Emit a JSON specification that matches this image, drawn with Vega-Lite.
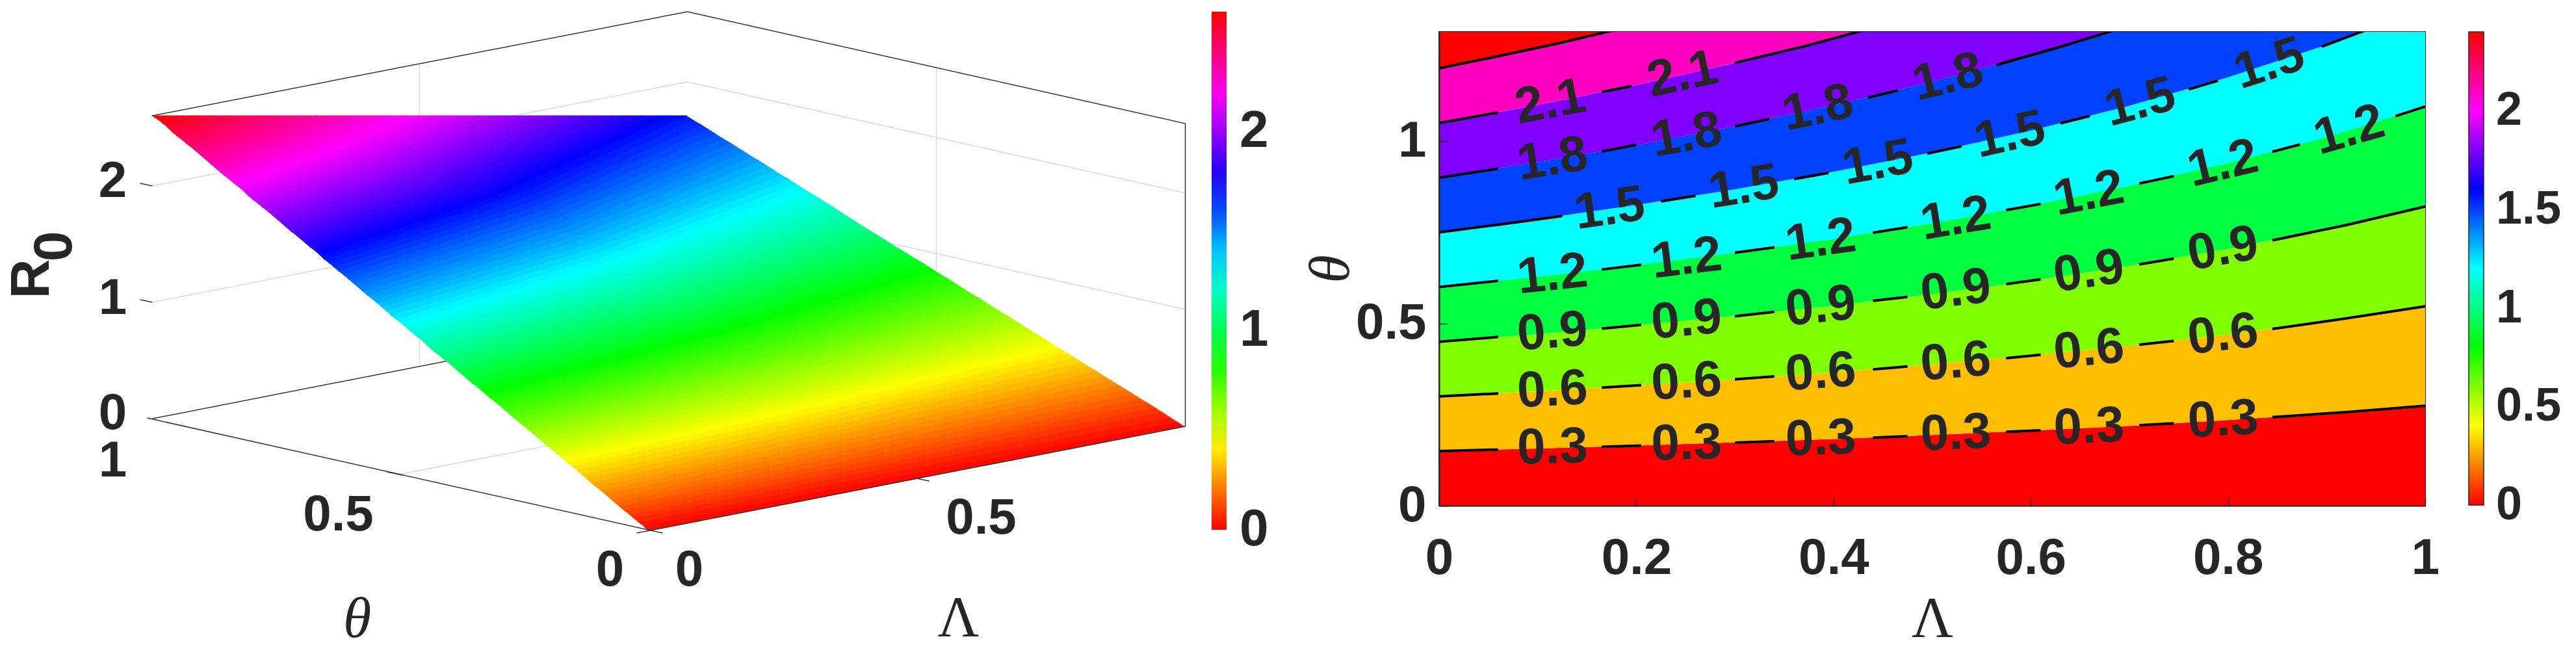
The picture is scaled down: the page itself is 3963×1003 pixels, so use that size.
{
"$schema":"https://vega.github.io/schema/vega-lite/v6.json",
"background":"white",
"padding":{"left":0,"top":4,"right":0,"bottom":0},
"bounds":"flush",
"spacing":214,
"datasets":{
"surface":[
{"r":0.013,"k":1,"h":9.95,"v":8.12},{"r":0.013,"k":2,"h":14.08,"v":7.32},{"r":0.013,"k":3,"h":18.2,"v":6.52},{"r":0.013,"k":4,"h":18.09,"v":6.45},{"r":0.013,"k":5,"h":13.99,"v":7.25},{"r":0.013,"k":6,"h":9.88,"v":8.05},
{"r":0.038,"k":1,"h":9.88,"v":8.05},{"r":0.038,"k":2,"h":13.99,"v":7.25},{"r":0.038,"k":3,"h":18.09,"v":6.45},{"r":0.038,"k":4,"h":17.98,"v":6.38},{"r":0.038,"k":5,"h":13.9,"v":7.19},{"r":0.038,"k":6,"h":9.8,"v":7.99},
{"r":0.063,"k":1,"h":9.8,"v":7.99},{"r":0.063,"k":2,"h":13.9,"v":7.19},{"r":0.063,"k":3,"h":17.98,"v":6.38},{"r":0.063,"k":4,"h":17.86,"v":6.3},{"r":0.063,"k":5,"h":13.81,"v":7.12},{"r":0.063,"k":6,"h":9.73,"v":7.93},
{"r":0.088,"k":1,"h":9.73,"v":7.93},{"r":0.088,"k":2,"h":13.81,"v":7.12},{"r":0.088,"k":3,"h":17.86,"v":6.3},{"r":0.088,"k":4,"h":17.75,"v":6.23},{"r":0.088,"k":5,"h":13.72,"v":7.06},{"r":0.088,"k":6,"h":9.66,"v":7.87},
{"r":0.113,"k":1,"h":9.66,"v":7.87},{"r":0.113,"k":2,"h":13.72,"v":7.06},{"r":0.113,"k":3,"h":17.75,"v":6.23},{"r":0.113,"k":4,"h":17.64,"v":6.16},{"r":0.113,"k":5,"h":13.63,"v":6.99},{"r":0.113,"k":6,"h":9.58,"v":7.81},
{"r":0.138,"k":1,"h":9.58,"v":7.81},{"r":0.138,"k":2,"h":13.63,"v":6.99},{"r":0.138,"k":3,"h":17.64,"v":6.16},{"r":0.138,"k":4,"h":17.52,"v":6.09},{"r":0.138,"k":5,"h":13.54,"v":6.93},{"r":0.138,"k":6,"h":9.51,"v":7.75},
{"r":0.163,"k":1,"h":9.51,"v":7.75},{"r":0.163,"k":2,"h":13.54,"v":6.93},{"r":0.163,"k":3,"h":17.52,"v":6.09},{"r":0.163,"k":4,"h":17.41,"v":6.02},{"r":0.163,"k":5,"h":13.45,"v":6.86},{"r":0.163,"k":6,"h":9.44,"v":7.69},
{"r":0.188,"k":1,"h":9.44,"v":7.69},{"r":0.188,"k":2,"h":13.45,"v":6.86},{"r":0.188,"k":3,"h":17.41,"v":6.02},{"r":0.188,"k":4,"h":17.3,"v":5.95},{"r":0.188,"k":5,"h":13.37,"v":6.8},{"r":0.188,"k":6,"h":9.37,"v":7.63},
{"r":0.213,"k":1,"h":9.37,"v":7.63},{"r":0.213,"k":2,"h":13.37,"v":6.8},{"r":0.213,"k":3,"h":17.3,"v":5.95},{"r":0.213,"k":4,"h":17.18,"v":5.88},{"r":0.213,"k":5,"h":13.28,"v":6.73},{"r":0.213,"k":6,"h":9.29,"v":7.56},
{"r":0.238,"k":1,"h":9.29,"v":7.56},{"r":0.238,"k":2,"h":13.28,"v":6.73},{"r":0.238,"k":3,"h":17.18,"v":5.88},{"r":0.238,"k":4,"h":17.07,"v":5.81},{"r":0.238,"k":5,"h":13.19,"v":6.67},{"r":0.238,"k":6,"h":9.22,"v":7.5},
{"r":0.263,"k":1,"h":9.22,"v":7.5},{"r":0.263,"k":2,"h":13.19,"v":6.67},{"r":0.263,"k":3,"h":17.07,"v":5.81},{"r":0.263,"k":4,"h":16.96,"v":5.74},{"r":0.263,"k":5,"h":13.1,"v":6.6},{"r":0.263,"k":6,"h":9.14,"v":7.44},
{"r":0.288,"k":1,"h":9.14,"v":7.44},{"r":0.288,"k":2,"h":13.1,"v":6.6},{"r":0.288,"k":3,"h":16.96,"v":5.74},{"r":0.288,"k":4,"h":16.85,"v":5.67},{"r":0.288,"k":5,"h":13.01,"v":6.54},{"r":0.288,"k":6,"h":9.07,"v":7.38},
{"r":0.313,"k":1,"h":9.07,"v":7.38},{"r":0.313,"k":2,"h":13.01,"v":6.54},{"r":0.313,"k":3,"h":16.85,"v":5.67},{"r":0.313,"k":4,"h":16.73,"v":5.6},{"r":0.313,"k":5,"h":12.92,"v":6.47},{"r":0.313,"k":6,"h":9.0,"v":7.32},
{"r":0.338,"k":1,"h":9.0,"v":7.32},{"r":0.338,"k":2,"h":12.92,"v":6.47},{"r":0.338,"k":3,"h":16.73,"v":5.6},{"r":0.338,"k":4,"h":16.62,"v":5.53},{"r":0.338,"k":5,"h":12.83,"v":6.41},{"r":0.338,"k":6,"h":8.93,"v":7.26},
{"r":0.363,"k":1,"h":8.93,"v":7.26},{"r":0.363,"k":2,"h":12.83,"v":6.41},{"r":0.363,"k":3,"h":16.62,"v":5.53},{"r":0.363,"k":4,"h":16.51,"v":5.46},{"r":0.363,"k":5,"h":12.75,"v":6.34},{"r":0.363,"k":6,"h":8.85,"v":7.19},
{"r":0.388,"k":1,"h":8.85,"v":7.19},{"r":0.388,"k":2,"h":12.75,"v":6.34},{"r":0.388,"k":3,"h":16.51,"v":5.46},{"r":0.388,"k":4,"h":16.4,"v":5.39},{"r":0.388,"k":5,"h":12.66,"v":6.28},{"r":0.388,"k":6,"h":8.78,"v":7.13},
{"r":0.413,"k":1,"h":8.78,"v":7.13},{"r":0.413,"k":2,"h":12.66,"v":6.28},{"r":0.413,"k":3,"h":16.4,"v":5.39},{"r":0.413,"k":4,"h":16.28,"v":5.32},{"r":0.413,"k":5,"h":12.57,"v":6.21},{"r":0.413,"k":6,"h":8.7,"v":7.07},
{"r":0.438,"k":1,"h":8.7,"v":7.07},{"r":0.438,"k":2,"h":12.57,"v":6.21},{"r":0.438,"k":3,"h":16.28,"v":5.32},{"r":0.438,"k":4,"h":16.17,"v":5.25},{"r":0.438,"k":5,"h":12.48,"v":6.15},{"r":0.438,"k":6,"h":8.63,"v":7.01},
{"r":0.463,"k":1,"h":8.63,"v":7.01},{"r":0.463,"k":2,"h":12.48,"v":6.15},{"r":0.463,"k":3,"h":16.17,"v":5.25},{"r":0.463,"k":4,"h":16.06,"v":5.18},{"r":0.463,"k":5,"h":12.39,"v":6.08},{"r":0.463,"k":6,"h":8.56,"v":6.95},
{"r":0.488,"k":1,"h":8.56,"v":6.95},{"r":0.488,"k":2,"h":12.39,"v":6.08},{"r":0.488,"k":3,"h":16.06,"v":5.18},{"r":0.488,"k":4,"h":15.95,"v":5.11},{"r":0.488,"k":5,"h":12.3,"v":6.02},{"r":0.488,"k":6,"h":8.49,"v":6.89},
{"r":0.513,"k":1,"h":8.49,"v":6.89},{"r":0.513,"k":2,"h":12.3,"v":6.02},{"r":0.513,"k":3,"h":15.95,"v":5.11},{"r":0.513,"k":4,"h":15.83,"v":5.04},{"r":0.513,"k":5,"h":12.21,"v":5.95},{"r":0.513,"k":6,"h":8.41,"v":6.83},
{"r":0.538,"k":1,"h":8.41,"v":6.83},{"r":0.538,"k":2,"h":12.21,"v":5.95},{"r":0.538,"k":3,"h":15.83,"v":5.04},{"r":0.538,"k":4,"h":15.72,"v":4.97},{"r":0.538,"k":5,"h":12.12,"v":5.89},{"r":0.538,"k":6,"h":8.34,"v":6.77},
{"r":0.563,"k":1,"h":8.34,"v":6.77},{"r":0.563,"k":2,"h":12.12,"v":5.89},{"r":0.563,"k":3,"h":15.72,"v":4.97},{"r":0.563,"k":4,"h":15.61,"v":4.9},{"r":0.563,"k":5,"h":12.03,"v":5.82},{"r":0.563,"k":6,"h":8.26,"v":6.7},
{"r":0.588,"k":1,"h":8.26,"v":6.7},{"r":0.588,"k":2,"h":12.03,"v":5.82},{"r":0.588,"k":3,"h":15.61,"v":4.9},{"r":0.588,"k":4,"h":15.5,"v":4.83},{"r":0.588,"k":5,"h":11.94,"v":5.76},{"r":0.588,"k":6,"h":8.19,"v":6.64},
{"r":0.613,"k":1,"h":8.19,"v":6.64},{"r":0.613,"k":2,"h":11.94,"v":5.76},{"r":0.613,"k":3,"h":15.5,"v":4.83},{"r":0.613,"k":4,"h":15.38,"v":4.76},{"r":0.613,"k":5,"h":11.85,"v":5.69},{"r":0.613,"k":6,"h":8.12,"v":6.58},
{"r":0.638,"k":1,"h":8.12,"v":6.58},{"r":0.638,"k":2,"h":11.85,"v":5.69},{"r":0.638,"k":3,"h":15.38,"v":4.76},{"r":0.638,"k":4,"h":15.27,"v":4.69},{"r":0.638,"k":5,"h":11.77,"v":5.63},{"r":0.638,"k":6,"h":8.05,"v":6.52},
{"r":0.663,"k":1,"h":8.05,"v":6.52},{"r":0.663,"k":2,"h":11.77,"v":5.63},{"r":0.663,"k":3,"h":15.27,"v":4.69},{"r":0.663,"k":4,"h":15.16,"v":4.62},{"r":0.663,"k":5,"h":11.68,"v":5.56},{"r":0.663,"k":6,"h":7.97,"v":6.46},
{"r":0.688,"k":1,"h":7.97,"v":6.46},{"r":0.688,"k":2,"h":11.68,"v":5.56},{"r":0.688,"k":3,"h":15.16,"v":4.62},{"r":0.688,"k":4,"h":15.05,"v":4.55},{"r":0.688,"k":5,"h":11.59,"v":5.5},{"r":0.688,"k":6,"h":7.9,"v":6.4},
{"r":0.713,"k":1,"h":7.9,"v":6.4},{"r":0.713,"k":2,"h":11.59,"v":5.5},{"r":0.713,"k":3,"h":15.05,"v":4.55},{"r":0.713,"k":4,"h":14.93,"v":4.48},{"r":0.713,"k":5,"h":11.5,"v":5.43},{"r":0.713,"k":6,"h":7.83,"v":6.34},
{"r":0.738,"k":1,"h":7.83,"v":6.34},{"r":0.738,"k":2,"h":11.5,"v":5.43},{"r":0.738,"k":3,"h":14.93,"v":4.48},{"r":0.738,"k":4,"h":14.82,"v":4.41},{"r":0.738,"k":5,"h":11.41,"v":5.37},{"r":0.738,"k":6,"h":7.76,"v":6.28},
{"r":0.763,"k":1,"h":7.76,"v":6.28},{"r":0.763,"k":2,"h":11.41,"v":5.37},{"r":0.763,"k":3,"h":14.82,"v":4.41},{"r":0.763,"k":4,"h":14.71,"v":4.34},{"r":0.763,"k":5,"h":11.32,"v":5.3},{"r":0.763,"k":6,"h":7.68,"v":6.21},
{"r":0.788,"k":1,"h":7.68,"v":6.21},{"r":0.788,"k":2,"h":11.32,"v":5.3},{"r":0.788,"k":3,"h":14.71,"v":4.34},{"r":0.788,"k":4,"h":14.6,"v":4.27},{"r":0.788,"k":5,"h":11.23,"v":5.24},{"r":0.788,"k":6,"h":7.61,"v":6.15},
{"r":0.813,"k":1,"h":7.61,"v":6.15},{"r":0.813,"k":2,"h":11.23,"v":5.24},{"r":0.813,"k":3,"h":14.6,"v":4.27},{"r":0.813,"k":4,"h":14.48,"v":4.2},{"r":0.813,"k":5,"h":11.15,"v":5.17},{"r":0.813,"k":6,"h":7.53,"v":6.09},
{"r":0.838,"k":1,"h":7.53,"v":6.09},{"r":0.838,"k":2,"h":11.15,"v":5.17},{"r":0.838,"k":3,"h":14.48,"v":4.2},{"r":0.838,"k":4,"h":14.37,"v":4.13},{"r":0.838,"k":5,"h":11.06,"v":5.11},{"r":0.838,"k":6,"h":7.46,"v":6.03},
{"r":0.863,"k":1,"h":7.46,"v":6.03},{"r":0.863,"k":2,"h":11.06,"v":5.11},{"r":0.863,"k":3,"h":14.37,"v":4.13},{"r":0.863,"k":4,"h":14.26,"v":4.06},{"r":0.863,"k":5,"h":10.97,"v":5.04},{"r":0.863,"k":6,"h":7.39,"v":5.97},
{"r":0.888,"k":1,"h":7.39,"v":5.97},{"r":0.888,"k":2,"h":10.97,"v":5.04},{"r":0.888,"k":3,"h":14.26,"v":4.06},{"r":0.888,"k":4,"h":14.15,"v":3.99},{"r":0.888,"k":5,"h":10.88,"v":4.98},{"r":0.888,"k":6,"h":7.32,"v":5.91},
{"r":0.913,"k":1,"h":7.32,"v":5.91},{"r":0.913,"k":2,"h":10.88,"v":4.98},{"r":0.913,"k":3,"h":14.15,"v":3.99},{"r":0.913,"k":4,"h":14.03,"v":3.92},{"r":0.913,"k":5,"h":10.79,"v":4.91},{"r":0.913,"k":6,"h":7.24,"v":5.85},
{"r":0.938,"k":1,"h":7.24,"v":5.85},{"r":0.938,"k":2,"h":10.79,"v":4.91},{"r":0.938,"k":3,"h":14.03,"v":3.92},{"r":0.938,"k":4,"h":13.92,"v":3.85},{"r":0.938,"k":5,"h":10.7,"v":4.85},{"r":0.938,"k":6,"h":7.17,"v":5.79},
{"r":0.963,"k":1,"h":7.17,"v":5.79},{"r":0.963,"k":2,"h":10.7,"v":4.85},{"r":0.963,"k":3,"h":13.92,"v":3.85},{"r":0.963,"k":4,"h":13.8,"v":3.78},{"r":0.963,"k":5,"h":10.61,"v":4.78},{"r":0.963,"k":6,"h":7.09,"v":5.72},
{"r":0.988,"k":1,"h":7.09,"v":5.72},{"r":0.988,"k":2,"h":10.61,"v":4.78},{"r":0.988,"k":3,"h":13.8,"v":3.78},{"r":0.988,"k":4,"h":13.69,"v":3.71},{"r":0.988,"k":5,"h":10.52,"v":4.72},{"r":0.988,"k":6,"h":7.02,"v":5.66},
{"r":1.013,"k":1,"h":7.02,"v":5.66},{"r":1.013,"k":2,"h":10.52,"v":4.72},{"r":1.013,"k":3,"h":13.69,"v":3.71},{"r":1.013,"k":4,"h":13.58,"v":3.64},{"r":1.013,"k":5,"h":10.44,"v":4.65},{"r":1.013,"k":6,"h":6.95,"v":5.6},
{"r":1.038,"k":1,"h":6.95,"v":5.6},{"r":1.038,"k":2,"h":10.44,"v":4.65},{"r":1.038,"k":3,"h":13.58,"v":3.64},{"r":1.038,"k":4,"h":13.47,"v":3.57},{"r":1.038,"k":5,"h":10.35,"v":4.59},{"r":1.038,"k":6,"h":6.88,"v":5.54},
{"r":1.063,"k":1,"h":6.88,"v":5.54},{"r":1.063,"k":2,"h":10.35,"v":4.59},{"r":1.063,"k":3,"h":13.47,"v":3.57},{"r":1.063,"k":4,"h":13.35,"v":3.5},{"r":1.063,"k":5,"h":10.26,"v":4.52},{"r":1.063,"k":6,"h":6.8,"v":5.48},
{"r":1.088,"k":1,"h":6.8,"v":5.48},{"r":1.088,"k":2,"h":10.26,"v":4.52},{"r":1.088,"k":3,"h":13.35,"v":3.5},{"r":1.088,"k":4,"h":13.24,"v":3.43},{"r":1.088,"k":5,"h":10.17,"v":4.46},{"r":1.088,"k":6,"h":6.73,"v":5.42},
{"r":1.113,"k":1,"h":6.73,"v":5.42},{"r":1.113,"k":2,"h":10.17,"v":4.46},{"r":1.113,"k":3,"h":13.24,"v":3.43},{"r":1.113,"k":4,"h":13.13,"v":3.36},{"r":1.113,"k":5,"h":10.08,"v":4.39},{"r":1.113,"k":6,"h":6.65,"v":5.36},
{"r":1.138,"k":1,"h":6.65,"v":5.36},{"r":1.138,"k":2,"h":10.08,"v":4.39},{"r":1.138,"k":3,"h":13.13,"v":3.36},{"r":1.138,"k":4,"h":13.02,"v":3.29},{"r":1.138,"k":5,"h":9.99,"v":4.33},{"r":1.138,"k":6,"h":6.58,"v":5.3},
{"r":1.163,"k":1,"h":6.58,"v":5.3},{"r":1.163,"k":2,"h":9.99,"v":4.33},{"r":1.163,"k":3,"h":13.02,"v":3.29},{"r":1.163,"k":4,"h":12.9,"v":3.21},{"r":1.163,"k":5,"h":9.9,"v":4.26},{"r":1.163,"k":6,"h":6.51,"v":5.23},
{"r":1.188,"k":1,"h":6.51,"v":5.23},{"r":1.188,"k":2,"h":9.9,"v":4.26},{"r":1.188,"k":3,"h":12.9,"v":3.21},{"r":1.188,"k":4,"h":12.79,"v":3.14},{"r":1.188,"k":5,"h":9.81,"v":4.2},{"r":1.188,"k":6,"h":6.44,"v":5.17},
{"r":1.213,"k":1,"h":6.44,"v":5.17},{"r":1.213,"k":2,"h":9.81,"v":4.2},{"r":1.213,"k":3,"h":12.79,"v":3.14},{"r":1.213,"k":4,"h":12.68,"v":3.07},{"r":1.213,"k":5,"h":9.73,"v":4.13},{"r":1.213,"k":6,"h":6.36,"v":5.11},
{"r":1.238,"k":1,"h":6.36,"v":5.11},{"r":1.238,"k":2,"h":9.73,"v":4.13},{"r":1.238,"k":3,"h":12.68,"v":3.07},{"r":1.238,"k":4,"h":12.57,"v":3.0},{"r":1.238,"k":5,"h":9.64,"v":4.07},{"r":1.238,"k":6,"h":6.29,"v":5.05},
{"r":1.263,"k":1,"h":6.29,"v":5.05},{"r":1.263,"k":2,"h":9.64,"v":4.07},{"r":1.263,"k":3,"h":12.57,"v":3.0},{"r":1.263,"k":4,"h":12.45,"v":2.93},{"r":1.263,"k":5,"h":9.55,"v":4.0},{"r":1.263,"k":6,"h":6.22,"v":4.99},
{"r":1.288,"k":1,"h":6.22,"v":4.99},{"r":1.288,"k":2,"h":9.55,"v":4.0},{"r":1.288,"k":3,"h":12.45,"v":2.93},{"r":1.288,"k":4,"h":12.34,"v":2.86},{"r":1.288,"k":5,"h":9.46,"v":3.94},{"r":1.288,"k":6,"h":6.15,"v":4.93},
{"r":1.313,"k":1,"h":6.15,"v":4.93},{"r":1.313,"k":2,"h":9.46,"v":3.94},{"r":1.313,"k":3,"h":12.34,"v":2.86},{"r":1.313,"k":4,"h":12.23,"v":2.79},{"r":1.313,"k":5,"h":9.37,"v":3.87},{"r":1.313,"k":6,"h":6.07,"v":4.87},
{"r":1.338,"k":1,"h":6.07,"v":4.87},{"r":1.338,"k":2,"h":9.37,"v":3.87},{"r":1.338,"k":3,"h":12.23,"v":2.79},{"r":1.338,"k":4,"h":12.12,"v":2.72},{"r":1.338,"k":5,"h":9.28,"v":3.81},{"r":1.338,"k":6,"h":6.0,"v":4.81},
{"r":1.363,"k":1,"h":6.0,"v":4.81},{"r":1.363,"k":2,"h":9.28,"v":3.81},{"r":1.363,"k":3,"h":12.12,"v":2.72},{"r":1.363,"k":4,"h":12.0,"v":2.65},{"r":1.363,"k":5,"h":9.19,"v":3.75},{"r":1.363,"k":6,"h":5.92,"v":4.74},
{"r":1.388,"k":1,"h":5.92,"v":4.74},{"r":1.388,"k":2,"h":9.19,"v":3.75},{"r":1.388,"k":3,"h":12.0,"v":2.65},{"r":1.388,"k":4,"h":11.89,"v":2.58},{"r":1.388,"k":5,"h":9.1,"v":3.69},{"r":1.388,"k":6,"h":5.85,"v":4.68},
{"r":1.413,"k":1,"h":5.85,"v":4.68},{"r":1.413,"k":2,"h":9.1,"v":3.69},{"r":1.413,"k":3,"h":11.89,"v":2.58},{"r":1.413,"k":4,"h":11.78,"v":2.51},{"r":1.413,"k":5,"h":9.01,"v":3.62},{"r":1.413,"k":6,"h":5.78,"v":4.62},
{"r":1.438,"k":1,"h":5.78,"v":4.62},{"r":1.438,"k":2,"h":9.01,"v":3.62},{"r":1.438,"k":3,"h":11.78,"v":2.51},{"r":1.438,"k":4,"h":11.67,"v":2.44},{"r":1.438,"k":5,"h":8.93,"v":3.56},{"r":1.438,"k":6,"h":5.71,"v":4.56},
{"r":1.463,"k":1,"h":5.71,"v":4.56},{"r":1.463,"k":2,"h":8.93,"v":3.56},{"r":1.463,"k":3,"h":11.67,"v":2.44},{"r":1.463,"k":4,"h":11.55,"v":2.37},{"r":1.463,"k":5,"h":8.84,"v":3.49},{"r":1.463,"k":6,"h":5.63,"v":4.5},
{"r":1.488,"k":1,"h":5.63,"v":4.5},{"r":1.488,"k":2,"h":8.84,"v":3.49},{"r":1.488,"k":3,"h":11.55,"v":2.37},{"r":1.488,"k":4,"h":11.44,"v":2.3},{"r":1.488,"k":5,"h":8.75,"v":3.43},{"r":1.488,"k":6,"h":5.56,"v":4.44},
{"r":1.513,"k":1,"h":5.56,"v":4.44},{"r":1.513,"k":2,"h":8.75,"v":3.43},{"r":1.513,"k":3,"h":11.44,"v":2.3},{"r":1.513,"k":4,"h":11.33,"v":2.23},{"r":1.513,"k":5,"h":8.66,"v":3.36},{"r":1.513,"k":6,"h":5.48,"v":4.37},
{"r":1.538,"k":1,"h":5.48,"v":4.37},{"r":1.538,"k":2,"h":8.66,"v":3.36},{"r":1.538,"k":3,"h":11.33,"v":2.23},{"r":1.538,"k":4,"h":11.22,"v":2.16},{"r":1.538,"k":5,"h":8.57,"v":3.3},{"r":1.538,"k":6,"h":5.41,"v":4.31},
{"r":1.563,"k":1,"h":5.41,"v":4.31},{"r":1.563,"k":2,"h":8.57,"v":3.3},{"r":1.563,"k":3,"h":11.22,"v":2.16},{"r":1.563,"k":4,"h":11.1,"v":2.09},{"r":1.563,"k":5,"h":8.48,"v":3.23},{"r":1.563,"k":6,"h":5.34,"v":4.25},
{"r":1.588,"k":1,"h":5.34,"v":4.25},{"r":1.588,"k":2,"h":8.48,"v":3.23},{"r":1.588,"k":3,"h":11.1,"v":2.09},{"r":1.588,"k":4,"h":10.99,"v":2.02},{"r":1.588,"k":5,"h":8.39,"v":3.17},{"r":1.588,"k":6,"h":5.27,"v":4.19},
{"r":1.613,"k":1,"h":5.27,"v":4.19},{"r":1.613,"k":2,"h":8.39,"v":3.17},{"r":1.613,"k":3,"h":10.99,"v":2.02},{"r":1.613,"k":4,"h":10.88,"v":1.95},{"r":1.613,"k":5,"h":8.3,"v":3.1},{"r":1.613,"k":6,"h":5.19,"v":4.13},
{"r":1.638,"k":1,"h":5.19,"v":4.13},{"r":1.638,"k":2,"h":8.3,"v":3.1},{"r":1.638,"k":3,"h":10.88,"v":1.95},{"r":1.638,"k":4,"h":10.77,"v":1.88},{"r":1.638,"k":5,"h":8.22,"v":3.04},{"r":1.638,"k":6,"h":5.12,"v":4.07},
{"r":1.663,"k":1,"h":5.12,"v":4.07},{"r":1.663,"k":2,"h":8.22,"v":3.04},{"r":1.663,"k":3,"h":10.77,"v":1.88},{"r":1.663,"k":4,"h":10.65,"v":1.81},{"r":1.663,"k":5,"h":8.13,"v":2.97},{"r":1.663,"k":6,"h":5.05,"v":4.01},
{"r":1.688,"k":1,"h":5.05,"v":4.01},{"r":1.688,"k":2,"h":8.13,"v":2.97},{"r":1.688,"k":3,"h":10.65,"v":1.81},{"r":1.688,"k":4,"h":10.54,"v":1.74},{"r":1.688,"k":5,"h":8.04,"v":2.91},{"r":1.688,"k":6,"h":4.97,"v":3.95},
{"r":1.713,"k":1,"h":4.97,"v":3.95},{"r":1.713,"k":2,"h":8.04,"v":2.91},{"r":1.713,"k":3,"h":10.54,"v":1.74},{"r":1.713,"k":4,"h":10.31,"v":1.74},{"r":1.713,"k":5,"h":7.61,"v":2.97},{"r":1.713,"k":6,"h":4.9,"v":3.88},
{"r":1.738,"k":1,"h":4.9,"v":3.88},{"r":1.738,"k":2,"h":7.61,"v":2.97},{"r":1.738,"k":3,"h":10.31,"v":1.74},{"r":1.738,"k":4,"h":10.08,"v":1.74},{"r":1.738,"k":5,"h":7.46,"v":2.93},{"r":1.738,"k":6,"h":4.83,"v":3.82},
{"r":1.763,"k":1,"h":4.83,"v":3.82},{"r":1.763,"k":2,"h":7.46,"v":2.93},{"r":1.763,"k":3,"h":10.08,"v":1.74},{"r":1.763,"k":4,"h":9.85,"v":1.74},{"r":1.763,"k":5,"h":7.31,"v":2.89},{"r":1.763,"k":6,"h":4.75,"v":3.76},
{"r":1.788,"k":1,"h":4.75,"v":3.76},{"r":1.788,"k":2,"h":7.31,"v":2.89},{"r":1.788,"k":3,"h":9.85,"v":1.74},{"r":1.788,"k":4,"h":9.63,"v":1.74},{"r":1.788,"k":5,"h":7.16,"v":2.85},{"r":1.788,"k":6,"h":4.68,"v":3.7},
{"r":1.813,"k":1,"h":4.68,"v":3.7},{"r":1.813,"k":2,"h":7.16,"v":2.85},{"r":1.813,"k":3,"h":9.63,"v":1.74},{"r":1.813,"k":4,"h":9.4,"v":1.74},{"r":1.813,"k":5,"h":7.0,"v":2.81},{"r":1.813,"k":6,"h":4.61,"v":3.64},
{"r":1.838,"k":1,"h":4.61,"v":3.64},{"r":1.838,"k":2,"h":7.0,"v":2.81},{"r":1.838,"k":3,"h":9.4,"v":1.74},{"r":1.838,"k":4,"h":9.17,"v":1.74},{"r":1.838,"k":5,"h":6.85,"v":2.77},{"r":1.838,"k":6,"h":4.54,"v":3.58},
{"r":1.863,"k":1,"h":4.54,"v":3.58},{"r":1.863,"k":2,"h":6.85,"v":2.77},{"r":1.863,"k":3,"h":9.17,"v":1.74},{"r":1.863,"k":4,"h":8.95,"v":1.74},{"r":1.863,"k":5,"h":6.7,"v":2.74},{"r":1.863,"k":6,"h":4.46,"v":3.52},
{"r":1.888,"k":1,"h":4.46,"v":3.52},{"r":1.888,"k":2,"h":6.7,"v":2.74},{"r":1.888,"k":3,"h":8.95,"v":1.74},{"r":1.888,"k":4,"h":8.72,"v":1.74},{"r":1.888,"k":5,"h":6.55,"v":2.7},{"r":1.888,"k":6,"h":4.39,"v":3.46},
{"r":1.913,"k":1,"h":4.39,"v":3.46},{"r":1.913,"k":2,"h":6.55,"v":2.7},{"r":1.913,"k":3,"h":8.72,"v":1.74},{"r":1.913,"k":4,"h":8.49,"v":1.74},{"r":1.913,"k":5,"h":6.4,"v":2.66},{"r":1.913,"k":6,"h":4.31,"v":3.39},
{"r":1.938,"k":1,"h":4.31,"v":3.39},{"r":1.938,"k":2,"h":6.4,"v":2.66},{"r":1.938,"k":3,"h":8.49,"v":1.74},{"r":1.938,"k":4,"h":8.26,"v":1.74},{"r":1.938,"k":5,"h":6.25,"v":2.62},{"r":1.938,"k":6,"h":4.24,"v":3.33},
{"r":1.963,"k":1,"h":4.24,"v":3.33},{"r":1.963,"k":2,"h":6.25,"v":2.62},{"r":1.963,"k":3,"h":8.26,"v":1.74},{"r":1.963,"k":4,"h":8.03,"v":1.74},{"r":1.963,"k":5,"h":6.1,"v":2.59},{"r":1.963,"k":6,"h":4.17,"v":3.27},
{"r":1.988,"k":1,"h":4.17,"v":3.27},{"r":1.988,"k":2,"h":6.1,"v":2.59},{"r":1.988,"k":3,"h":8.03,"v":1.74},{"r":1.988,"k":4,"h":7.81,"v":1.74},{"r":1.988,"k":5,"h":5.95,"v":2.55},{"r":1.988,"k":6,"h":4.1,"v":3.21},
{"r":2.013,"k":1,"h":4.1,"v":3.21},{"r":2.013,"k":2,"h":5.95,"v":2.55},{"r":2.013,"k":3,"h":7.81,"v":1.74},{"r":2.013,"k":4,"h":7.58,"v":1.74},{"r":2.013,"k":5,"h":5.8,"v":2.51},{"r":2.013,"k":6,"h":4.02,"v":3.15},
{"r":2.038,"k":1,"h":4.02,"v":3.15},{"r":2.038,"k":2,"h":5.8,"v":2.51},{"r":2.038,"k":3,"h":7.58,"v":1.74},{"r":2.038,"k":4,"h":7.35,"v":1.74},{"r":2.038,"k":5,"h":5.65,"v":2.47},{"r":2.038,"k":6,"h":3.95,"v":3.09},
{"r":2.063,"k":1,"h":3.95,"v":3.09},{"r":2.063,"k":2,"h":5.65,"v":2.47},{"r":2.063,"k":3,"h":7.35,"v":1.74},{"r":2.063,"k":4,"h":7.13,"v":1.74},{"r":2.063,"k":5,"h":5.5,"v":2.44},{"r":2.063,"k":6,"h":3.87,"v":3.03},
{"r":2.088,"k":1,"h":3.87,"v":3.03},{"r":2.088,"k":2,"h":5.5,"v":2.44},{"r":2.088,"k":3,"h":7.13,"v":1.74},{"r":2.088,"k":4,"h":6.9,"v":1.74},{"r":2.088,"k":5,"h":5.35,"v":2.4},{"r":2.088,"k":6,"h":3.8,"v":2.97},
{"r":2.113,"k":1,"h":3.8,"v":2.97},{"r":2.113,"k":2,"h":5.35,"v":2.4},{"r":2.113,"k":3,"h":6.9,"v":1.74},{"r":2.113,"k":4,"h":6.67,"v":1.74},{"r":2.113,"k":5,"h":5.2,"v":2.37},{"r":2.113,"k":6,"h":3.73,"v":2.9},
{"r":2.138,"k":1,"h":3.73,"v":2.9},{"r":2.138,"k":2,"h":5.2,"v":2.37},{"r":2.138,"k":3,"h":6.67,"v":1.74},{"r":2.138,"k":4,"h":6.44,"v":1.74},{"r":2.138,"k":5,"h":5.05,"v":2.33},{"r":2.138,"k":6,"h":3.66,"v":2.84},
{"r":2.163,"k":1,"h":3.66,"v":2.84},{"r":2.163,"k":2,"h":5.05,"v":2.33},{"r":2.163,"k":3,"h":6.44,"v":1.74},{"r":2.163,"k":4,"h":6.21,"v":1.74},{"r":2.163,"k":5,"h":4.9,"v":2.3},{"r":2.163,"k":6,"h":3.58,"v":2.78},
{"r":2.188,"k":1,"h":3.58,"v":2.78},{"r":2.188,"k":2,"h":4.9,"v":2.3},{"r":2.188,"k":3,"h":6.21,"v":1.74},{"r":2.188,"k":4,"h":5.98,"v":1.74},{"r":2.188,"k":5,"h":4.75,"v":2.26},{"r":2.188,"k":6,"h":3.51,"v":2.72},
{"r":2.213,"k":1,"h":3.51,"v":2.72},{"r":2.213,"k":2,"h":4.75,"v":2.26},{"r":2.213,"k":3,"h":5.98,"v":1.74},{"r":2.213,"k":4,"h":5.76,"v":1.74},{"r":2.213,"k":5,"h":4.6,"v":2.23},{"r":2.213,"k":6,"h":3.43,"v":2.66},
{"r":2.238,"k":1,"h":3.43,"v":2.66},{"r":2.238,"k":2,"h":4.6,"v":2.23},{"r":2.238,"k":3,"h":5.76,"v":1.74},{"r":2.238,"k":4,"h":5.53,"v":1.74},{"r":2.238,"k":5,"h":4.45,"v":2.19},{"r":2.238,"k":6,"h":3.36,"v":2.6},
{"r":2.263,"k":1,"h":3.36,"v":2.6},{"r":2.263,"k":2,"h":4.45,"v":2.19},{"r":2.263,"k":3,"h":5.53,"v":1.74},{"r":2.263,"k":4,"h":5.3,"v":1.74},{"r":2.263,"k":5,"h":4.3,"v":2.16},{"r":2.263,"k":6,"h":3.29,"v":2.54},
{"r":2.288,"k":1,"h":3.29,"v":2.54},{"r":2.288,"k":2,"h":4.3,"v":2.16},{"r":2.288,"k":3,"h":5.3,"v":1.74},{"r":2.288,"k":4,"h":5.07,"v":1.74},{"r":2.288,"k":5,"h":4.15,"v":2.13},{"r":2.288,"k":6,"h":3.22,"v":2.48},
{"r":2.313,"k":1,"h":3.22,"v":2.48},{"r":2.313,"k":2,"h":4.15,"v":2.13},{"r":2.313,"k":3,"h":5.07,"v":1.74},{"r":2.313,"k":4,"h":4.85,"v":1.74},{"r":2.313,"k":5,"h":4.0,"v":2.09},{"r":2.313,"k":6,"h":3.14,"v":2.41},
{"r":2.338,"k":1,"h":3.14,"v":2.41},{"r":2.338,"k":2,"h":4.0,"v":2.09},{"r":2.338,"k":3,"h":4.85,"v":1.74},{"r":2.338,"k":4,"h":4.62,"v":1.74},{"r":2.338,"k":5,"h":3.85,"v":2.06},{"r":2.338,"k":6,"h":3.07,"v":2.35},
{"r":2.363,"k":1,"h":3.07,"v":2.35},{"r":2.363,"k":2,"h":3.85,"v":2.06},{"r":2.363,"k":3,"h":4.62,"v":1.74},{"r":2.363,"k":4,"h":4.39,"v":1.74},{"r":2.363,"k":5,"h":3.7,"v":2.03},{"r":2.363,"k":6,"h":3.0,"v":2.29},
{"r":2.388,"k":1,"h":3.0,"v":2.29},{"r":2.388,"k":2,"h":3.7,"v":2.03},{"r":2.388,"k":3,"h":4.39,"v":1.74},{"r":2.388,"k":4,"h":4.16,"v":1.74},{"r":2.388,"k":5,"h":3.54,"v":1.99},{"r":2.388,"k":6,"h":2.93,"v":2.23},
{"r":2.413,"k":1,"h":2.93,"v":2.23},{"r":2.413,"k":2,"h":3.54,"v":1.99},{"r":2.413,"k":3,"h":4.16,"v":1.74},{"r":2.413,"k":4,"h":3.94,"v":1.74},{"r":2.413,"k":5,"h":3.39,"v":1.96},{"r":2.413,"k":6,"h":2.85,"v":2.17},
{"r":2.438,"k":1,"h":2.85,"v":2.17},{"r":2.438,"k":2,"h":3.39,"v":1.96},{"r":2.438,"k":3,"h":3.94,"v":1.74},{"r":2.438,"k":4,"h":3.71,"v":1.74},{"r":2.438,"k":5,"h":3.24,"v":1.93},{"r":2.438,"k":6,"h":2.78,"v":2.11},
{"r":2.463,"k":1,"h":2.78,"v":2.11},{"r":2.463,"k":2,"h":3.24,"v":1.93},{"r":2.463,"k":3,"h":3.71,"v":1.74},{"r":2.463,"k":4,"h":3.48,"v":1.74},{"r":2.463,"k":5,"h":3.09,"v":1.9},{"r":2.463,"k":6,"h":2.7,"v":2.05},
{"r":2.488,"k":1,"h":2.7,"v":2.05},{"r":2.488,"k":2,"h":3.09,"v":1.9},{"r":2.488,"k":3,"h":3.48,"v":1.74},{"r":2.488,"k":4,"h":3.25,"v":1.74},{"r":2.488,"k":5,"h":2.94,"v":1.87},{"r":2.488,"k":6,"h":2.63,"v":1.99},
{"r":2.513,"k":1,"h":2.63,"v":1.99},{"r":2.513,"k":2,"h":2.94,"v":1.87},{"r":2.513,"k":3,"h":3.25,"v":1.74},{"r":2.513,"k":4,"h":3.03,"v":1.74},{"r":2.513,"k":5,"h":2.79,"v":1.84},{"r":2.513,"k":6,"h":2.56,"v":1.92},
{"r":2.538,"k":1,"h":2.56,"v":1.92},{"r":2.538,"k":2,"h":2.79,"v":1.84},{"r":2.538,"k":3,"h":3.03,"v":1.74},{"r":2.538,"k":4,"h":2.8,"v":1.74},{"r":2.538,"k":5,"h":2.64,"v":1.8},{"r":2.538,"k":6,"h":2.49,"v":1.86},
{"r":2.563,"k":1,"h":2.49,"v":1.86},{"r":2.563,"k":2,"h":2.64,"v":1.8},{"r":2.563,"k":3,"h":2.8,"v":1.74},{"r":2.563,"k":4,"h":2.57,"v":1.74},{"r":2.563,"k":5,"h":2.49,"v":1.77},{"r":2.563,"k":6,"h":2.41,"v":1.8},
{"r":2.588,"k":1,"h":2.41,"v":1.8},{"r":2.588,"k":2,"h":2.49,"v":1.77},{"r":2.588,"k":3,"h":2.57,"v":1.74},{"r":2.588,"k":4,"h":2.32,"v":1.74}
],
"grid":[
{"g":1,"k":1,"h":2.33,"v":2.82},{"g":1,"k":2,"h":10.56,"v":1.22},{"g":1,"k":3,"h":18.22,"v":2.93},
{"g":2,"k":1,"h":2.33,"v":4.61},{"g":2,"k":2,"h":10.56,"v":3.0},{"g":2,"k":3,"h":18.22,"v":4.72},
{"g":3,"k":1,"h":10.56,"v":4.79},{"g":3,"k":2,"h":18.22,"v":6.52},
{"g":4,"k":1,"h":6.44,"v":0.95},{"g":4,"k":2,"h":6.44,"v":5.57},
{"g":5,"k":1,"h":14.39,"v":1.0},{"g":5,"k":2,"h":14.39,"v":5.66},
{"g":6,"k":1,"h":6.12,"v":7.26},{"g":6,"k":2,"h":14.39,"v":5.66}
],
"backEdges":[
{"g":1,"k":1,"h":2.33,"v":1.74},{"g":1,"k":2,"h":10.56,"v":0.14},{"g":1,"k":3,"h":18.22,"v":1.86},{"g":1,"k":4,"h":18.22,"v":6.52},
{"g":2,"k":1,"h":2.33,"v":6.4},{"g":2,"k":2,"h":10.56,"v":4.79}
],
"frontEdges":[
{"g":1,"k":1,"h":2.25,"v":6.39},{"g":1,"k":2,"h":10.18,"v":8.16},
{"g":2,"k":1,"h":9.78,"v":8.16},{"g":2,"k":2,"h":18.22,"v":6.52},
{"g":3,"k":1,"h":2.14,"v":2.78},{"g":3,"k":2,"h":2.33,"v":2.82},
{"g":4,"k":1,"h":2.14,"v":4.57},{"g":4,"k":2,"h":2.33,"v":4.61},
{"g":5,"k":1,"h":5.94,"v":7.22},{"g":5,"k":2,"h":6.18,"v":7.27},
{"g":6,"k":1,"h":14.09,"v":7.32},{"g":6,"k":2,"h":14.28,"v":7.36}
],
"bands":[
{"level":0,"Lambda":0,"lo":0,"hi":0.15},{"level":0,"Lambda":0.1,"lo":0,"hi":0.157},{"level":0,"Lambda":0.2,"lo":0,"hi":0.165},{"level":0,"Lambda":0.3,"lo":0,"hi":0.174},{"level":0,"Lambda":0.4,"lo":0,"hi":0.183},{"level":0,"Lambda":0.5,"lo":0,"hi":0.194},{"level":0,"Lambda":0.6,"lo":0,"hi":0.206},{"level":0,"Lambda":0.7,"lo":0,"hi":0.219},{"level":0,"Lambda":0.8,"lo":0,"hi":0.235},{"level":0,"Lambda":0.9,"lo":0,"hi":0.253},{"level":0,"Lambda":1,"lo":0,"hi":0.274},
{"level":0.3,"Lambda":0,"lo":0.15,"hi":0.3},{"level":0.3,"Lambda":0.1,"lo":0.157,"hi":0.314},{"level":0.3,"Lambda":0.2,"lo":0.165,"hi":0.33},{"level":0.3,"Lambda":0.3,"lo":0.174,"hi":0.347},{"level":0.3,"Lambda":0.4,"lo":0.183,"hi":0.366},{"level":0.3,"Lambda":0.5,"lo":0.194,"hi":0.388},{"level":0.3,"Lambda":0.6,"lo":0.206,"hi":0.412},{"level":0.3,"Lambda":0.7,"lo":0.219,"hi":0.439},{"level":0.3,"Lambda":0.8,"lo":0.235,"hi":0.47},{"level":0.3,"Lambda":0.9,"lo":0.253,"hi":0.506},{"level":0.3,"Lambda":1,"lo":0.274,"hi":0.547},
{"level":0.6,"Lambda":0,"lo":0.3,"hi":0.45},{"level":0.6,"Lambda":0.1,"lo":0.314,"hi":0.471},{"level":0.6,"Lambda":0.2,"lo":0.33,"hi":0.495},{"level":0.6,"Lambda":0.3,"lo":0.347,"hi":0.521},{"level":0.6,"Lambda":0.4,"lo":0.366,"hi":0.549},{"level":0.6,"Lambda":0.5,"lo":0.388,"hi":0.581},{"level":0.6,"Lambda":0.6,"lo":0.412,"hi":0.617},{"level":0.6,"Lambda":0.7,"lo":0.439,"hi":0.658},{"level":0.6,"Lambda":0.8,"lo":0.47,"hi":0.705},{"level":0.6,"Lambda":0.9,"lo":0.506,"hi":0.759},{"level":0.6,"Lambda":1,"lo":0.547,"hi":0.821},
{"level":0.9,"Lambda":0,"lo":0.45,"hi":0.6},{"level":0.9,"Lambda":0.1,"lo":0.471,"hi":0.628},{"level":0.9,"Lambda":0.2,"lo":0.495,"hi":0.66},{"level":0.9,"Lambda":0.3,"lo":0.521,"hi":0.694},{"level":0.9,"Lambda":0.4,"lo":0.549,"hi":0.732},{"level":0.9,"Lambda":0.5,"lo":0.581,"hi":0.775},{"level":0.9,"Lambda":0.6,"lo":0.617,"hi":0.823},{"level":0.9,"Lambda":0.7,"lo":0.658,"hi":0.878},{"level":0.9,"Lambda":0.8,"lo":0.705,"hi":0.94},{"level":0.9,"Lambda":0.9,"lo":0.759,"hi":1.011},{"level":0.9,"Lambda":1,"lo":0.821,"hi":1.095},
{"level":1.2,"Lambda":0,"lo":0.6,"hi":0.75},{"level":1.2,"Lambda":0.1,"lo":0.628,"hi":0.786},{"level":1.2,"Lambda":0.2,"lo":0.66,"hi":0.825},{"level":1.2,"Lambda":0.3,"lo":0.694,"hi":0.868},{"level":1.2,"Lambda":0.4,"lo":0.732,"hi":0.916},{"level":1.2,"Lambda":0.5,"lo":0.775,"hi":0.969},{"level":1.2,"Lambda":0.6,"lo":0.823,"hi":1.029},{"level":1.2,"Lambda":0.7,"lo":0.878,"hi":1.097},{"level":1.2,"Lambda":0.8,"lo":0.94,"hi":1.175},{"level":1.2,"Lambda":0.9,"lo":1.011,"hi":1.264},{"level":1.2,"Lambda":1,"lo":1.095,"hi":1.369},
{"level":1.5,"Lambda":0,"lo":0.75,"hi":0.9},{"level":1.5,"Lambda":0.1,"lo":0.786,"hi":0.943},{"level":1.5,"Lambda":0.2,"lo":0.825,"hi":0.989},{"level":1.5,"Lambda":0.3,"lo":0.868,"hi":1.041},{"level":1.5,"Lambda":0.4,"lo":0.916,"hi":1.099},{"level":1.5,"Lambda":0.5,"lo":0.969,"hi":1.163},{"level":1.5,"Lambda":0.6,"lo":1.029,"hi":1.235},{"level":1.5,"Lambda":0.7,"lo":1.097,"hi":1.317},{"level":1.5,"Lambda":0.8,"lo":1.175,"hi":1.41},{"level":1.5,"Lambda":0.9,"lo":1.264,"hi":1.517},{"level":1.5,"Lambda":1,"lo":1.369,"hi":1.642},
{"level":1.8,"Lambda":0,"lo":0.9,"hi":1.05},{"level":1.8,"Lambda":0.1,"lo":0.943,"hi":1.1},{"level":1.8,"Lambda":0.2,"lo":0.989,"hi":1.154},{"level":1.8,"Lambda":0.3,"lo":1.041,"hi":1.215},{"level":1.8,"Lambda":0.4,"lo":1.099,"hi":1.282},{"level":1.8,"Lambda":0.5,"lo":1.163,"hi":1.357},{"level":1.8,"Lambda":0.6,"lo":1.235,"hi":1.441},{"level":1.8,"Lambda":0.7,"lo":1.317,"hi":1.536},
{"level":2.1,"Lambda":0,"lo":1.05,"hi":1.2},{"level":2.1,"Lambda":0.1,"lo":1.1,"hi":1.257},{"level":2.1,"Lambda":0.2,"lo":1.154,"hi":1.319},{"level":2.1,"Lambda":0.3,"lo":1.215,"hi":1.388},{"level":2.1,"Lambda":0.4,"lo":1.282,"hi":1.465},{"level":2.1,"Lambda":0.5,"lo":1.357,"hi":1.55},
{"level":2.4,"Lambda":0,"lo":1.2,"hi":1.4},{"level":2.4,"Lambda":0.1,"lo":1.257,"hi":1.4},{"level":2.4,"Lambda":0.2,"lo":1.319,"hi":1.4}
],
"contours":[
{"level":0.3,"part":1,"Lambda":0,"theta":0.15},{"level":0.3,"part":1,"Lambda":0.06,"theta":0.154},{"level":0.3,"part":2,"Lambda":0.165,"theta":0.162},{"level":0.3,"part":2,"Lambda":0.205,"theta":0.165},{"level":0.3,"part":3,"Lambda":0.3,"theta":0.173},{"level":0.3,"part":3,"Lambda":0.34,"theta":0.177},{"level":0.3,"part":4,"Lambda":0.44,"theta":0.187},{"level":0.3,"part":4,"Lambda":0.475,"theta":0.191},{"level":0.3,"part":5,"Lambda":0.575,"theta":0.203},{"level":0.3,"part":5,"Lambda":0.61,"theta":0.207},{"level":0.3,"part":6,"Lambda":0.71,"theta":0.221},{"level":0.3,"part":6,"Lambda":0.745,"theta":0.226},{"level":0.3,"part":7,"Lambda":0.845,"theta":0.243},{"level":0.3,"part":7,"Lambda":0.92,"theta":0.257},{"level":0.3,"part":7,"Lambda":1,"theta":0.274},
{"level":0.6,"part":1,"Lambda":0,"theta":0.3},{"level":0.6,"part":1,"Lambda":0.06,"theta":0.308},{"level":0.6,"part":2,"Lambda":0.165,"theta":0.324},{"level":0.6,"part":2,"Lambda":0.205,"theta":0.331},{"level":0.6,"part":3,"Lambda":0.3,"theta":0.347},{"level":0.6,"part":3,"Lambda":0.34,"theta":0.355},{"level":0.6,"part":4,"Lambda":0.44,"theta":0.374},{"level":0.6,"part":4,"Lambda":0.475,"theta":0.382},{"level":0.6,"part":5,"Lambda":0.575,"theta":0.405},{"level":0.6,"part":5,"Lambda":0.61,"theta":0.414},{"level":0.6,"part":6,"Lambda":0.71,"theta":0.442},{"level":0.6,"part":6,"Lambda":0.745,"theta":0.452},{"level":0.6,"part":7,"Lambda":0.845,"theta":0.485},{"level":0.6,"part":7,"Lambda":0.92,"theta":0.514},{"level":0.6,"part":7,"Lambda":1,"theta":0.547},
{"level":0.9,"part":1,"Lambda":0,"theta":0.45},{"level":0.9,"part":1,"Lambda":0.06,"theta":0.463},{"level":0.9,"part":2,"Lambda":0.165,"theta":0.486},{"level":0.9,"part":2,"Lambda":0.205,"theta":0.496},{"level":0.9,"part":3,"Lambda":0.3,"theta":0.52},{"level":0.9,"part":3,"Lambda":0.34,"theta":0.532},{"level":0.9,"part":4,"Lambda":0.44,"theta":0.562},{"level":0.9,"part":4,"Lambda":0.475,"theta":0.573},{"level":0.9,"part":5,"Lambda":0.575,"theta":0.608},{"level":0.9,"part":5,"Lambda":0.61,"theta":0.621},{"level":0.9,"part":6,"Lambda":0.71,"theta":0.662},{"level":0.9,"part":6,"Lambda":0.745,"theta":0.678},{"level":0.9,"part":7,"Lambda":0.845,"theta":0.728},{"level":0.9,"part":7,"Lambda":0.92,"theta":0.77},{"level":0.9,"part":7,"Lambda":1,"theta":0.821},
{"level":1.2,"part":1,"Lambda":0,"theta":0.6},{"level":1.2,"part":1,"Lambda":0.06,"theta":0.617},{"level":1.2,"part":2,"Lambda":0.165,"theta":0.648},{"level":1.2,"part":2,"Lambda":0.205,"theta":0.661},{"level":1.2,"part":3,"Lambda":0.3,"theta":0.694},{"level":1.2,"part":3,"Lambda":0.34,"theta":0.709},{"level":1.2,"part":4,"Lambda":0.44,"theta":0.749},{"level":1.2,"part":4,"Lambda":0.475,"theta":0.764},{"level":1.2,"part":5,"Lambda":0.575,"theta":0.811},{"level":1.2,"part":5,"Lambda":0.61,"theta":0.828},{"level":1.2,"part":6,"Lambda":0.71,"theta":0.884},{"level":1.2,"part":6,"Lambda":0.745,"theta":0.904},{"level":1.2,"part":7,"Lambda":0.845,"theta":0.971},{"level":1.2,"part":7,"Lambda":0.873,"theta":0.991},{"level":1.2,"part":8,"Lambda":0.97,"theta":1.069},{"level":1.2,"part":8,"Lambda":1,"theta":1.095},
{"level":1.5,"part":1,"Lambda":0,"theta":0.75},{"level":1.5,"part":1,"Lambda":0.06,"theta":0.771},{"level":1.5,"part":1,"Lambda":0.125,"theta":0.795},{"level":1.5,"part":2,"Lambda":0.225,"theta":0.835},{"level":1.5,"part":2,"Lambda":0.26,"theta":0.85},{"level":1.5,"part":3,"Lambda":0.36,"theta":0.896},{"level":1.5,"part":3,"Lambda":0.395,"theta":0.913},{"level":1.5,"part":4,"Lambda":0.495,"theta":0.966},{"level":1.5,"part":4,"Lambda":0.53,"theta":0.986},{"level":1.5,"part":5,"Lambda":0.63,"theta":1.049},{"level":1.5,"part":5,"Lambda":0.66,"theta":1.069},{"level":1.5,"part":6,"Lambda":0.76,"theta":1.142},{"level":1.5,"part":6,"Lambda":0.79,"theta":1.166},{"level":1.5,"part":7,"Lambda":0.895,"theta":1.259},{"level":1.5,"part":7,"Lambda":0.95,"theta":1.315},
{"level":1.8,"part":1,"Lambda":0,"theta":0.9},{"level":1.8,"part":1,"Lambda":0.06,"theta":0.925},{"level":1.8,"part":2,"Lambda":0.165,"theta":0.972},{"level":1.8,"part":2,"Lambda":0.2,"theta":0.99},{"level":1.8,"part":3,"Lambda":0.3,"theta":1.041},{"level":1.8,"part":3,"Lambda":0.335,"theta":1.061},{"level":1.8,"part":4,"Lambda":0.435,"theta":1.12},{"level":1.8,"part":4,"Lambda":0.465,"theta":1.139},{"level":1.8,"part":5,"Lambda":0.565,"theta":1.209},{"level":1.8,"part":5,"Lambda":0.63,"theta":1.259},{"level":1.8,"part":5,"Lambda":0.7,"theta":1.317},
{"level":2.1,"part":1,"Lambda":0,"theta":1.05},{"level":2.1,"part":1,"Lambda":0.06,"theta":1.079},{"level":2.1,"part":2,"Lambda":0.165,"theta":1.135},{"level":2.1,"part":2,"Lambda":0.195,"theta":1.151},{"level":2.1,"part":3,"Lambda":0.3,"theta":1.215},{"level":2.1,"part":3,"Lambda":0.37,"theta":1.26},{"level":2.1,"part":3,"Lambda":0.43,"theta":1.304},
{"level":2.4,"part":1,"Lambda":0,"theta":1.2},{"level":2.4,"part":1,"Lambda":0.06,"theta":1.233},{"level":2.4,"part":1,"Lambda":0.12,"theta":1.268},{"level":2.4,"part":1,"Lambda":0.175,"theta":1.303}
],
"contourLabels":[
{"level":0.3,"Lambda":0.115,"theta":0.158,"slope":0.075},{"level":0.3,"Lambda":0.251,"theta":0.169,"slope":0.086},{"level":0.3,"Lambda":0.387,"theta":0.182,"slope":0.1},{"level":0.3,"Lambda":0.524,"theta":0.197,"slope":0.116},{"level":0.3,"Lambda":0.659,"theta":0.214,"slope":0.138},{"level":0.3,"Lambda":0.795,"theta":0.234,"slope":0.165},
{"level":0.6,"Lambda":0.115,"theta":0.316,"slope":0.151},{"level":0.6,"Lambda":0.251,"theta":0.338,"slope":0.173},{"level":0.6,"Lambda":0.387,"theta":0.364,"slope":0.199},{"level":0.6,"Lambda":0.524,"theta":0.393,"slope":0.233},{"level":0.6,"Lambda":0.659,"theta":0.427,"slope":0.275},{"level":0.6,"Lambda":0.795,"theta":0.468,"slope":0.331},
{"level":0.9,"Lambda":0.115,"theta":0.475,"slope":0.226},{"level":0.9,"Lambda":0.251,"theta":0.508,"slope":0.259},{"level":0.9,"Lambda":0.387,"theta":0.545,"slope":0.299},{"level":0.9,"Lambda":0.524,"theta":0.59,"slope":0.349},{"level":0.9,"Lambda":0.659,"theta":0.641,"slope":0.413},{"level":0.9,"Lambda":0.795,"theta":0.703,"slope":0.496},
{"level":1.2,"Lambda":0.115,"theta":0.633,"slope":0.302},{"level":1.2,"Lambda":0.251,"theta":0.677,"slope":0.345},{"level":1.2,"Lambda":0.387,"theta":0.727,"slope":0.398},{"level":1.2,"Lambda":0.524,"theta":0.786,"slope":0.466},{"level":1.2,"Lambda":0.659,"theta":0.855,"slope":0.55},{"level":1.2,"Lambda":0.795,"theta":0.937,"slope":0.661},{"level":1.2,"Lambda":0.923,"theta":1.029,"slope":0.798},
{"level":1.5,"Lambda":0.173,"theta":0.813,"slope":0.399},{"level":1.5,"Lambda":0.309,"theta":0.872,"slope":0.458},{"level":1.5,"Lambda":0.445,"theta":0.939,"slope":0.531},{"level":1.5,"Lambda":0.579,"theta":1.016,"slope":0.622},{"level":1.5,"Lambda":0.711,"theta":1.105,"slope":0.737},{"level":1.5,"Lambda":0.842,"theta":1.211,"slope":0.883},
{"level":1.8,"Lambda":0.115,"theta":0.949,"slope":0.452},{"level":1.8,"Lambda":0.251,"theta":1.015,"slope":0.518},{"level":1.8,"Lambda":0.384,"theta":1.089,"slope":0.596},{"level":1.8,"Lambda":0.516,"theta":1.174,"slope":0.692},
{"level":2.1,"Lambda":0.113,"theta":1.106,"slope":0.527},{"level":2.1,"Lambda":0.247,"theta":1.182,"slope":0.601}
]
},
"hconcat":[
{
"width":2000,
"height":729,
"view":{"stroke":null},
"encoding":{
"x":{"field":"h","type":"quantitative","axis":null,"scale":{"domain":[-0.015,19.985],"nice":false,"zero":false}},
"y":{"field":"v","type":"quantitative","axis":null,"scale":{"domain":[7.74,0.45],"nice":false,"zero":false}}
},
"resolve":{"legend":{"fill":"independent"}},
"layer":[
{"data":{"name":"grid"},"mark":{"type":"line","stroke":"#d9d9d9","strokeWidth":1.5},"encoding":{"detail":{"field":"g"},"order":{"field":"k"}}},
{"data":{"name":"backEdges"},"mark":{"type":"line","stroke":"#333333","strokeWidth":1.5},"encoding":{"detail":{"field":"g"},"order":{"field":"k"}}},
{
"data":{"name":"surface"},
"mark":{"type":"line","strokeWidth":1},
"encoding":{
"detail":{"field":"r"},
"order":{"field":"k"},
"fill":{"field":"r","type":"quantitative","scale":{"domain":[0,0.4333,0.8667,1.3,1.7333,2.1667,2.6],"range":["#ff0000","#ffff00","#00ff00","#00ffff","#0000ff","#ff00ff","#ff0000"],"interpolate":"rgb"},"legend":null},
"stroke":{"field":"r","type":"quantitative","scale":{"domain":[0,0.4333,0.8667,1.3,1.7333,2.1667,2.6],"range":["#ff0000","#ffff00","#00ff00","#00ffff","#0000ff","#ff00ff","#ff0000"],"interpolate":"rgb"},"legend":null}
}
},
{
"data":{"values":[{"r":0,"h":2.33,"v":1.74},{"r":2.6,"h":2.33,"v":1.74}]},
"mark":{"type":"area"},
"encoding":{
"fill":{"field":"r","type":"quantitative","scale":{"domain":[0,0.4333,0.8667,1.3,1.7333,2.1667,2.6],"range":["#ff0000","#ffff00","#00ff00","#00ffff","#0000ff","#ff00ff","#ff0000"],"interpolate":"rgb"},
"legend":{"type":"gradient","orient":"none","legendX":1864,"legendY":-31,"direction":"vertical","title":null,"gradientLength":797,"gradientThickness":23,"gradientStrokeWidth":0,"values":[0,1,2],"format":"~g","labelFont":"Liberation Sans","labelFontSize":80,"labelFontWeight":"bold","labelColor":"#262626","labelOffset":20,"encoding":{"labels":{"baseline":{"value":"middle"}}}}}
}
},
{"data":{"name":"frontEdges"},"mark":{"type":"line","stroke":"#333333","strokeWidth":1.5},"encoding":{"detail":{"field":"g"},"order":{"field":"k"}}},
{
"data":{"values":[{"h":1.72,"v":2.76,"t":"2"},{"h":1.72,"v":4.56,"t":"1"},{"h":1.72,"v":6.33,"t":"0"},{"h":1.72,"v":7.06,"t":"1"},{"h":5.19,"v":7.89,"t":"0.5"},{"h":9.37,"v":8.74,"t":"0"},{"h":10.59,"v":8.74,"t":"0"},{"h":15.08,"v":7.94,"t":"0.5"}]},
"mark":{"type":"text","font":"Liberation Sans","fontWeight":"bold","fontSize":78,"color":"#262626","baseline":"middle"},
"encoding":{"text":{"field":"t"}}
},
{
"data":{"values":[{"h":5.48,"v":9.5,"t":"θ"}]},
"mark":{"type":"text","font":"Liberation Serif","fontStyle":"italic","fontSize":88,"color":"#262626","baseline":"middle"},
"encoding":{"text":{"field":"t"}}
},
{
"data":{"values":[{"h":14.73,"v":9.48,"t":"Λ"}]},
"mark":{"type":"text","font":"Liberation Serif","fontSize":88,"color":"#262626","baseline":"middle"},
"encoding":{"text":{"field":"t"}}
},
{
"data":{"values":[{"h":0.48,"v":4.25,"t":"R"},{"h":0.83,"v":3.75,"t":"0"}]},
"mark":{"type":"text","font":"Liberation Sans","fontWeight":"bold","fontSize":84,"color":"#262626","baseline":"middle","angle":270},
"encoding":{"text":{"field":"t"}}
}
]
},
{
"width":1517,
"height":729,
"view":{"stroke":"#262626","strokeWidth":2},
"layer":[
{
"data":{"name":"bands"},
"mark":{"type":"area","clip":true},
"encoding":{
"x":{"field":"Lambda","type":"quantitative","scale":{"domain":[0,1],"nice":false},
"axis":{"values":[0,0.2,0.4,0.6,0.8,1],"format":"~g","grid":false,"title":"Λ","titleFont":"Liberation Serif","titleFontSize":88,"titleFontWeight":"normal","titleColor":"#262626","titlePadding":10,"labelFont":"Liberation Sans","labelFontWeight":"bold","labelFontSize":78,"labelColor":"#262626","labelPadding":55,"labelOverlap":false,"labelFlush":false,"domainColor":"#262626","domainWidth":2,"tickColor":"#262626","tickWidth":1.5,"tickSize":-13,"zindex":1}},
"y":{"field":"lo","type":"quantitative","scale":{"domain":[0,1.3],"nice":false},
"axis":{"values":[0,0.5,1],"format":"~g","grid":false,"title":"θ","titleFont":"Liberation Serif","titleFontStyle":"italic","titleFontSize":88,"titleFontWeight":"normal","titleColor":"#262626","titlePadding":-7,"labelFont":"Liberation Sans","labelFontWeight":"bold","labelFontSize":78,"labelColor":"#262626","labelPadding":33,"labelOverlap":false,"labelFlush":false,"domainColor":"#262626","domainWidth":2,"tickColor":"#262626","tickWidth":1.5,"tickSize":-13,"zindex":1}},
"y2":{"field":"hi"},
"detail":{"field":"level"},
"fill":{"field":"level","type":"quantitative","scale":{"domain":[0,0.4,0.8,1.2,1.6,2,2.4],"range":["#ff0000","#ffff00","#00ff00","#00ffff","#0000ff","#ff00ff","#ff0000"],"interpolate":"rgb"},
"legend":{"type":"gradient","orient":"none","legendX":1584,"legendY":0,"direction":"vertical","title":null,"gradientLength":728,"gradientThickness":23,"gradientStrokeColor":"#262626","gradientStrokeWidth":1.5,"values":[0,0.5,1,1.5,2],"format":"~g","labelFont":"Liberation Sans","labelFontSize":72,"labelFontWeight":"bold","labelColor":"#262626","labelOffset":19,"encoding":{"labels":{"baseline":{"value":"middle"}}}}}
}
},
{
"data":{"name":"contours"},
"mark":{"type":"line","clip":true,"stroke":"black","strokeWidth":4},
"encoding":{
"x":{"field":"Lambda","type":"quantitative","scale":{"domain":[0,1],"nice":false}},
"y":{"field":"theta","type":"quantitative","scale":{"domain":[0,1.3],"nice":false}},
"detail":[{"field":"level"},{"field":"part"}]
}
},
{
"data":{"name":"contourLabels"},
"mark":{"type":"text","font":"Liberation Sans","fontWeight":"bold","fontSize":78,"color":"#262626","baseline":"middle"},
"encoding":{
"x":{"field":"Lambda","type":"quantitative","scale":{"domain":[0,1],"nice":false}},
"y":{"field":"theta","type":"quantitative","scale":{"domain":[0,1.3],"nice":false}},
"text":{"field":"level","type":"quantitative","format":".1f"},
"angle":{"field":"slope","type":"quantitative","scale":{"domain":[0,1],"range":[0,-20]},"legend":null}
}
}
]
}
],
"resolve":{"scale":{"x":"independent","y":"independent","fill":"independent","stroke":"independent"}}
}
